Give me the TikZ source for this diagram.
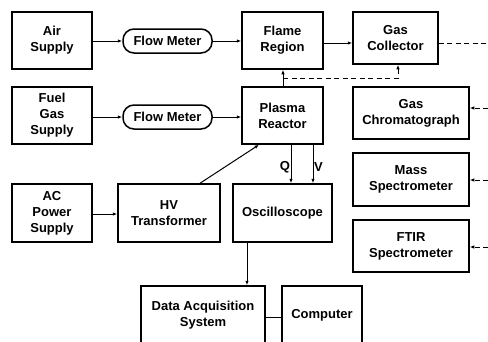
\documentclass[tikz,border=0pt]{standalone}
\usepackage{fontspec}
\setmainfont{Liberation Sans}
\usetikzlibrary{arrows.meta}
\begin{document}
\begin{tikzpicture}[x=1pt,y=-1pt,
  box/.style={draw,line width=1.5pt,align=center,inner sep=1pt,
    font=\fontsize{13}{16}\selectfont\bfseries},
  meter/.style={box,rounded corners=11pt,minimum width=89pt,minimum height=24pt},
  conn/.style={line width=1pt,-{Latex[length=4.5pt,width=3.5pt]}},
  dconn/.style={conn,dashed,dash pattern=on 5pt off 3.5pt},
  lbl/.style={font=\fontsize{13}{16}\selectfont\bfseries,inner sep=0pt}]
\useasboundingbox (0,0) rectangle (488,341);
\node[box,minimum width=80pt,minimum height=57pt] (air) at (52,40.5) {Air\\Supply};
\node[meter] (fm1) at (167.5,41) {Flow Meter};
\node[box,minimum width=80pt,minimum height=57pt] (fuel) at (52,115.5) {Fuel\\Gas\\Supply};
\node[meter] (fm2) at (167.5,117) {Flow Meter};
\node[box,minimum width=81pt,minimum height=57pt] (flame) at (282.5,40.5) {Flame\\Region};
\node[box,minimum width=85pt,minimum height=52pt] (gc) at (395.5,38) {Gas\\Collector};
\node[box,minimum width=81pt,minimum height=57pt] (plasma) at (282.5,115.5) {Plasma\\Reactor};
\node[box,minimum width=116pt,minimum height=52pt] (chrom) at (411,113) {Gas\\Chromatograph};
\node[box,minimum width=116pt,minimum height=53pt] (mass) at (411,179.5) {Mass\\Spectrometer};
\node[box,minimum width=116pt,minimum height=52pt] (ftir) at (411,246) {FTIR\\Spectrometer};
\node[box,minimum width=80pt,minimum height=58pt] (ac) at (52,213) {AC\\Power\\Supply};
\node[box,minimum width=102pt,minimum height=58pt] (hv) at (169,213) {HV\\Transformer};
\node[box,minimum width=99pt,minimum height=58pt] (osc) at (282.5,213) {Oscilloscope};
\node[box,minimum width=124pt,minimum height=59pt] (daq) at (203,315.5) {Data Acquisition\\System};
\node[box,minimum width=80pt,minimum height=59pt] (comp) at (322,315.5) {Computer};
% edge coordinates
\coordinate (e1) at (488,43);
\coordinate (e2) at (488,108);
\coordinate (e3) at (488,180);
\coordinate (e4) at (488,247);
\coordinate (split) at (283,78);
% connectors
\draw[conn] (air.east |- fm1) -- (fm1.west);
\draw[conn] (fm1.east) -- (fm1.east -| flame.west);
\draw[conn] (fuel.east |- fm2) -- (fm2.west);
\draw[conn] (fm2.east) -- (fm2.east -| plasma.west);
\draw[conn] (flame.east |- e1) -- (e1 -| gc.west);
\draw[conn] (plasma.north -| split) -- (flame.south -| split);
\draw[dconn] (split) -- (split -| 398,0) -- (gc.south -| 398,0);
\draw[line width=1pt,dashed,dash pattern=on 5pt off 3.5pt] (gc.east |- e1) -- (e1);
\draw[dconn] (e2) -- (e2 -| chrom.east);
\draw[dconn] (e3) -- (e3 -| mass.east);
\draw[dconn] (e4) -- (e4 -| ftir.east);
\draw[conn] (plasma.south -| 291,0) -- (osc.north -| 291,0);
\draw[conn] (plasma.south -| 313,0) -- (osc.north -| 313,0);
\node[lbl] (q) at (285,167) {Q};
\node[lbl] (v) at (318.5,167) {V};
\draw[conn] (hv.north -| 200,0) -- (plasma.south -| 259,0);
\draw[conn] (ac.east |- 0,214) -- (hv.west |- 0,214);
\draw[conn] (osc.south -| 247,0) -- (daq.north -| 247,0);
\draw[line width=1pt] (daq.east |- 0,317) -- (comp.west |- 0,317);
\end{tikzpicture}
\end{document}
